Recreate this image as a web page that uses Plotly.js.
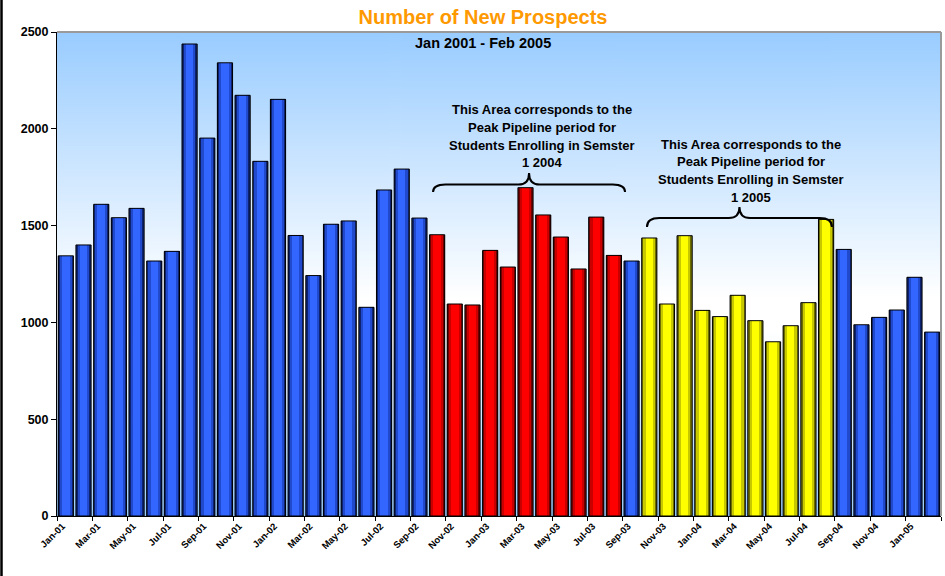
<!DOCTYPE html>
<html>
<head>
<meta charset="utf-8">
<script src="https://cdn.plot.ly/plotly-3.0.1.min.js"></script>
<style>html,body{margin:0;padding:0;background:#fff;}#chart{width:945px;height:576px;}</style>
</head>
<body>
<div id="chart"></div>
<script>
// ---- data ----
const months = ['Jan-01','Feb-01','Mar-01','Apr-01','May-01','Jun-01','Jul-01','Aug-01','Sep-01','Oct-01','Nov-01','Dec-01',
  'Jan-02','Feb-02','Mar-02','Apr-02','May-02','Jun-02','Jul-02','Aug-02','Sep-02','Oct-02','Nov-02','Dec-02',
  'Jan-03','Feb-03','Mar-03','Apr-03','May-03','Jun-03','Jul-03','Aug-03','Sep-03','Oct-03','Nov-03','Dec-03',
  'Jan-04','Feb-04','Mar-04','Apr-04','May-04','Jun-04','Jul-04','Aug-04','Sep-04','Oct-04','Nov-04','Dec-04',
  'Jan-05','Feb-05'];
const prospects = [1344,1400,1610,1541,1589,1317,1367,2438,1952,2341,2173,1832,
  2152,1449,1242,1507,1524,1078,1684,1792,1539,1453,1095,1090,
  1372,1286,1696,1555,1441,1276,1544,1346,1317,1436,1095,1448,
  1062,1030,1140,1009,900,983,1102,1532,1377,988,1026,1064,
  1233,950];
const peak2004 = ['Oct-02','Aug-03'];
const peak2005 = ['Oct-03','Aug-04'];
const yTicks = [0,500,1000,1500,2000,2500];
const titleText = 'Number of New Prospects';
const subtitleText = 'Jan 2001 - Feb 2005';
const note2004 = ['This Area corresponds to the','Peak Pipeline period for','Students Enrolling in Semster','1 2004'];
const note2005 = ['This Area corresponds to the','Peak Pipeline period for','Students Enrolling in Semster','1 2005'];

// ---- styling helpers ----
const idx = months.map((m,i)=>i);
const inRange = (i, r) => i >= months.indexOf(r[0]) && i <= months.indexOf(r[1]);
const group = idx.map(i => inRange(i, peak2004) ? 'red' : (inRange(i, peak2005) ? 'yellow' : 'blue'));
const shades = {
  blue:   ['#0d2370','#2049cc','#3366ff'],
  red:    ['#6e0000','#c80000','#ff0000'],
  yellow: ['#6e6e00','#c8c800','#ffff00']
};
const layerWidths = [0.86, 0.66, 0.42];
const traces = layerWidths.map((w, L) => ({
  type:'bar', x: idx, y: prospects, width: w,
  marker:{color: group.map(g => shades[g][L]), line:{width:0}},
  hoverinfo:'skip', showlegend:false, textposition:'none'
}));
traces.push({
  type:'bar', x: idx, y: prospects, width: layerWidths[0],
  marker:{color:'rgba(0,0,0,0)', line:{color:'#000', width:1}},
  customdata: months, hovertemplate:'%{customdata}: %{y}<extra></extra>',
  textposition:'none', showlegend:false
});

// background gradient
const cv = document.createElement('canvas');
cv.width = 4; cv.height = 484;
const ctx = cv.getContext('2d');
const gr = ctx.createLinearGradient(0,0,0,484);
gr.addColorStop(0,'#99ccff');
gr.addColorStop(0.55,'#ffffff');
gr.addColorStop(0.62,'#ffffff');
gr.addColorStop(1,'#99ccff');
ctx.fillStyle = gr; ctx.fillRect(0,0,4,484);
const bgURL = cv.toDataURL();

// pixel -> paper helpers (plot area 57..941 x 32..516)
const L0 = 57, R0 = 941, T0 = 32, B0 = 516;
const px = v => (v - L0) / (R0 - L0);
const py = v => (B0 - v) / (B0 - T0);

function brace(x0, x1, yb, yl, yt, r, rt) {
  const xm = (x0 + x1) / 2;
  return `M${x0},${yb} Q${x0},${yl} ${x0+r},${yl} L${xm-rt},${yl} Q${xm},${yl} ${xm},${yt} ` +
         `Q${xm},${yl} ${xm+rt},${yl} L${x1-r},${yl} Q${x1},${yl} ${x1},${yb}`;
}

const annFont = {family:'Liberation Sans, Arial, sans-serif', size:13, color:'#000', weight:700};
const annotations = [];
note2004.forEach((t,i)=>annotations.push({xref:'paper', yref:'paper', x:px(542), y:py(109.5 + i*17.8),
  text:'<b>'+t+'</b>', showarrow:false, xanchor:'center', yanchor:'middle', font:annFont}));
note2005.forEach((t,i)=>annotations.push({xref:'paper', yref:'paper', x:px(751), y:py(144 + i*17.7),
  text:'<b>'+t+'</b>', showarrow:false, xanchor:'center', yanchor:'middle', font:annFont}));
annotations.push({xref:'paper', yref:'paper', x:px(483), y:py(43), text:'<b>'+subtitleText+'</b>',
  showarrow:false, xanchor:'center', yanchor:'middle', font:{family:'Liberation Sans, Arial, sans-serif', size:14.5, color:'#000'}});

const layout = {
  width:945, height:576,
  margin:{l:L0, r:945-R0, t:T0, b:576-B0, pad:0},
  paper_bgcolor:'#ffffff', plot_bgcolor:'#ffffff',
  barmode:'overlay', bargap:0,
  title:{text:'<b>'+titleText+'</b>', xref:'container', yref:'container', x:483/945, y:1-17/576,
    xanchor:'center', yanchor:'middle', font:{family:'Liberation Sans, Arial, sans-serif', size:20, color:'#ff9900'}},
  xaxis:{range:[-0.5, months.length-0.5], tickmode:'array',
    tickvals: idx.filter(i=>i%2===0).map(i=>i-0.2), ticktext: months.filter((m,i)=>i%2===0),
    tickangle:-45, ticks:'', showgrid:false, zeroline:false,
    showline:true, linecolor:'#000', linewidth:1,
    tickfont:{family:'Liberation Sans, Arial, sans-serif', size:9.5, color:'#000', weight:700},
    minor:{tickmode:'linear', tick0:-0.5, dtick:2, ticks:'outside', ticklen:4, tickcolor:'#000', tickwidth:1, showgrid:false}},
  yaxis:{range:[0,2500], tickmode:'array', tickvals:yTicks, ticktext:yTicks.map(String),
    ticks:'outside', ticklen:5, tickcolor:'#000', showgrid:false, zeroline:false,
    showline:true, linecolor:'#000', linewidth:1,
    tickfont:{family:'Liberation Sans, Arial, sans-serif', size:12.5, color:'#000', weight:700}},
  images:[{source:bgURL, xref:'paper', yref:'paper', x:0, y:1, sizex:1, sizey:1, sizing:'stretch',
    xanchor:'left', yanchor:'top', layer:'below'}],
  shapes:[
    {type:'line', xref:'paper', yref:'paper', x0:0, x1:1, y0:1, y1:1, line:{color:'#9a9a9a', width:2}},
    {type:'line', xref:'paper', yref:'paper', x0:1, x1:1, y0:0, y1:1, line:{color:'#9a9a9a', width:2}},
    {type:'line', xref:'paper', yref:'paper', x0:px(1.5), x1:px(1.5), y0:py(576), y1:py(0), line:{color:'#000', width:2.5}},
    {type:'path', xref:'x', yref:'y', path: brace(20.77, 31.63, 1673, 1712, 1772, 0.7, 0.6), line:{color:'#000', width:2}},
    {type:'path', xref:'x', yref:'y', path: brace(32.87, 43.33, 1493, 1539, 1596, 0.7, 0.6), line:{color:'#000', width:2}}
  ],
  annotations: annotations
};

Plotly.newPlot('chart', traces, layout, {staticPlot:true, displayModeBar:false});
</script>
</body>
</html>
